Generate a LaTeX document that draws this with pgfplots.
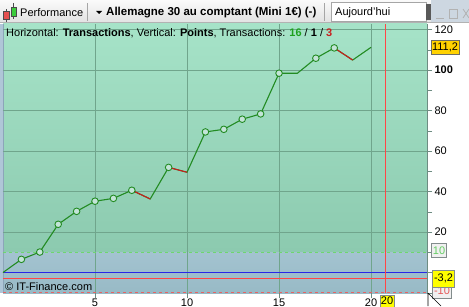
\documentclass[border=0pt]{standalone}
\usepackage{pgfplots}
\pgfplotsset{compat=1.18}
\usepackage{fontspec}
\setmainfont{Liberation Sans}
\definecolor{tbTop}{RGB}{250,250,250}
\definecolor{tbBot}{RGB}{226,226,226}
\definecolor{grTop}{RGB}{166,227,200}
\definecolor{grBot}{RGB}{140,202,175}
\definecolor{blTop}{RGB}{163,195,208}
\definecolor{blBot}{RGB}{152,186,198}
\definecolor{gridc}{RGB}{112,165,140}
\definecolor{lineG}{RGB}{34,139,34}
\definecolor{lineR}{RGB}{200,30,30}
\definecolor{mfill}{RGB}{195,228,216}
\definecolor{zeroB}{RGB}{40,40,230}
\definecolor{cursR}{RGB}{255,70,70}
\definecolor{dashG}{RGB}{110,215,110}
\definecolor{dashR}{RGB}{230,100,100}
\definecolor{axc}{RGB}{110,140,130}
\definecolor{gold}{RGB}{255,210,0}
\definecolor{yel}{RGB}{255,255,0}
\definecolor{txG}{RGB}{30,160,30}
\definecolor{txR}{RGB}{200,30,30}
\definecolor{candR}{RGB}{230,80,80}
\definecolor{candG}{RGB}{60,205,60}
\definecolor{winbg}{RGB}{205,215,225}
\definecolor{leftS}{RGB}{175,198,215}
\definecolor{leftL}{RGB}{140,165,185}
\definecolor{boxD}{RGB}{110,110,100}
\definecolor{boxG}{RGB}{130,140,140}
\definecolor{boxF}{RGB}{240,240,240}
\definecolor{lblG}{RGB}{100,205,100}
\definecolor{lblR}{RGB}{230,90,90}
\begin{document}
\begin{tikzpicture}[x=1pt,y=1pt,font=\fontsize{11}{13}\selectfont]
\useasboundingbox (0,0) rectangle (469,306);
\fill[white] (0,0) rectangle (469,306);
% toolbar
\shade[top color=tbTop,bottom color=tbBot] (0,283) rectangle (469,306);
\draw[gray!60] (0,283.5) -- (469,283.5);
% icon
\draw[black!70] (6.5,284) -- (6.5,297);
\draw[black!70,fill=candR] (3.5,286.5) rectangle (9,294.5);
\draw[black!70] (13.5,287) -- (13.5,303);
\draw[black!70,fill=candG] (11,289.5) rectangle (16,299);
\node[anchor=west,inner sep=0] at (20,293.5) {Performance};
\draw[gray!70] (87,285) -- (87,303);
\fill[black] (96,295) -- (102,295) -- (99,292) -- cycle;
\node[anchor=west,inner sep=0] at (106,293.5) {\fontsize{11.5}{13}\selectfont\bfseries Allemagne 30 au comptant (Mini 1€) (-)};
\draw[gray!70] (324,285) -- (324,303);
\draw[gray!70,fill=white] (331.5,284.5) rectangle (426,303.5);
\node[anchor=west,inner sep=0] at (335,293.5) {Aujourd'hui};
\fill[black!65] (426,286) rectangle (431,302);
\fill[winbg] (431,284) rectangle (469,306);
\draw[gray!60,line width=0.8pt] (436,288) -- (444,288);
\draw[gray!60,line width=0.8pt] (449,288) rectangle (457,297);
\draw[gray!60,line width=0.8pt] (463,288) -- (469,297) (463,297) -- (469,288);
% plot background
\shade[top color=grTop,bottom color=grBot] (3,53.75) rectangle (427,282);
\shade[top color=blTop,bottom color=blBot] (3,13) rectangle (427,53.75);
\fill[leftS] (0,13) rectangle (3,282);
\draw[leftL] (3,13) -- (3,282);
\begin{axis}[at={(3pt,13pt)}, anchor=south west, scale only axis,
  width=424pt, height=269pt,
  xmin=0, xmax=23.04, ymin=-10.12, ymax=122.7,
  axis y line*=right, axis x line*=bottom,
  x axis line style={draw=none}, y axis line style={draw=axc},
  xtick={5,10,15,20}, xticklabels={5,10,15,20},
  ytick={20,40,60,80,100,120}, yticklabels={20,40,60,80,\textbf{100},120},
  minor ytick={30,50,70,90,110},
  extra y ticks={-10,0,10}, extra y tick labels={},
  extra y tick style={grid=none},
  grid=major, major grid style={gridc, line width=0.6pt},
  tick style={axc}, major tick length=5pt, minor tick length=5pt, tick align=outside,
  tick label style={font=\fontsize{11}{12}\selectfont},
  yticklabel style={xshift=-1pt},
  xticklabel style={yshift=2.5pt},
  clip=false,
]
\addplot[dashG, dashed, line width=0.9pt] coordinates {(0,10) (23.04,10)};
\addplot[dashR, dashed, line width=1.4pt] coordinates {(0,-10) (23.04,-10)};
\addplot[zeroB, line width=0.9pt] coordinates {(0,0) (23.04,0)};
\addplot[cursR, line width=1pt] coordinates {(0,-3.2) (23.04,-3.2)};
\addplot[cursR, line width=1.2pt] coordinates {(20.8,-10.12) (20.8,122.7)};
\addplot[lineG, line width=1.1pt] coordinates {
(0,0) (1,6.5) (2,10.1) (3,23.8) (4,30.2) (5,35.2) (6,36.6) (7,40.6) (8,36.3)
(9,51.9) (10,49.5) (11,69.4) (12,70.7) (13,75.7) (14,78.3) (15,98.4) (16,98.4)
(17,105.8) (18,110.9) (19,104.9) (20,111.2)};
\addplot[lineR, line width=1.1pt] coordinates {(7,40.6) (8,36.3)};
\addplot[lineR, line width=1.1pt] coordinates {(9,51.9) (10,49.5)};
\addplot[lineR, line width=1.1pt] coordinates {(18,110.9) (19,104.9)};
\addplot[only marks, mark=*, mark size=3.3pt, mark options={fill=mfill, draw=lineG, line width=0.9pt}] coordinates {
(1,6.5) (2,10.1) (3,23.8) (4,30.2) (5,35.2) (6,36.6) (7,40.6)
(9,51.9) (11,69.4) (12,70.7) (13,75.7) (14,78.3) (15,98.4)
(17,105.8) (18,110.9)};
\end{axis}
% texts in plot
\node[anchor=west,inner sep=0] at (6,273) {Horizontal: \textbf{Transactions}, Vertical: \textbf{Points}, Transactions: \textbf{\color{txG}16} / \textbf{1} / \textbf{\color{txR}3}};
\node[anchor=west,inner sep=0] at (5,19.5) {© IT-Finance.com};
% right labels
\node[draw=boxD,fill=gold,inner sep=1pt,minimum height=14pt] at (445,258.5) {111,2};
\node[draw=boxG,fill=boxF,text=lblG,inner sep=1.5pt,minimum height=14pt] at (439,55.5) {10};
\node[draw=boxG,fill=boxF,text=lblR,inner sep=1.5pt,minimum height=14pt] at (442,15) {-10};
\node[draw=boxG,fill=yel,inner sep=1.5pt,minimum height=17pt] at (443.5,27.5) {-3,2};
\node[draw=boxG,fill=yel,inner sep=1pt,minimum height=12pt,anchor=north] at (387,11) {20};
% mouse pointer
\draw[black,line width=0.6pt] (428,13) -- (428,0) (428,13) -- (441,0);
\end{tikzpicture}
\end{document}
